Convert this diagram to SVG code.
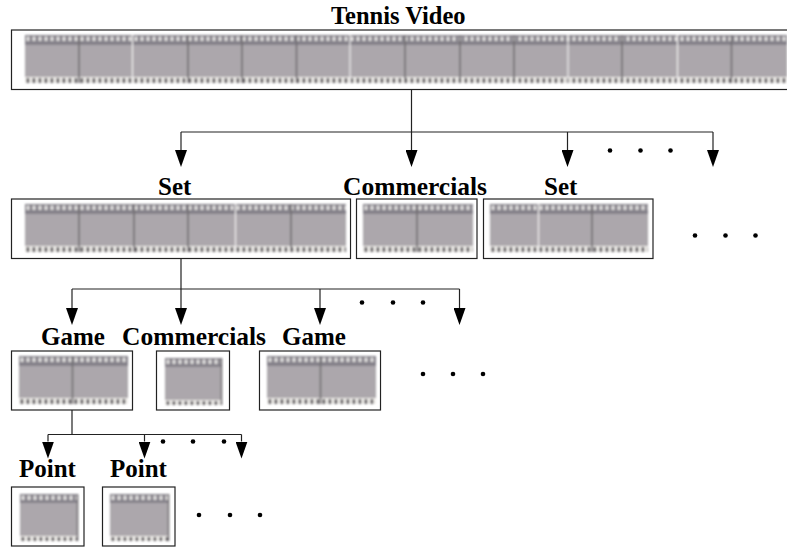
<svg xmlns="http://www.w3.org/2000/svg" width="787" height="547" viewBox="0 0 787 547">
<style>
.box{fill:#fff;stroke:#222;stroke-width:1.2}
.film{fill:#aca7ac}
.tb{fill:url(#holesT)}
.bb{fill:url(#holesB)}
.dk{stroke:#6f6c70;stroke-width:1.6;fill:none}
.wh{stroke:#f2f0f0;stroke-width:1.2;fill:none}
.lbl{font-family:"Liberation Serif","Times New Roman",serif;font-weight:bold;font-size:25px;fill:#000}
.wide{font-size:25.5px}
.ln{fill:none;stroke:#222;stroke-width:1.2}
.dot{fill:#000}
</style>
<defs>
<filter id="soft" x="-3%" y="-8%" width="106%" height="116%"><feGaussianBlur stdDeviation="0.9"/></filter>
<pattern id="holesT" width="6" height="10" patternUnits="userSpaceOnUse"><rect width="6" height="10" fill="#85828a"/><rect x="1.5" y="1.500" width="3" height="4.500" fill="#e2e0df"/></pattern>
<pattern id="holesB" width="6" height="7" patternUnits="userSpaceOnUse"><rect width="6" height="7" fill="#f2f0ec"/><rect x="1.5" y="1" width="2.8" height="6" fill="#5f5c60"/></pattern>
<marker id="ah" markerUnits="userSpaceOnUse" markerWidth="17" markerHeight="12" refX="0" refY="6" orient="auto"><path d="M0 0L17 6L0 12Z" fill="#000"/></marker>
</defs>

<g id="connectors">
<path class="ln" d="M411.5 89V132M181 132H713"/>
<path class="ln" d="M181 132V150" marker-end="url(#ah)"/>
<path class="ln" d="M411.5 132V150" marker-end="url(#ah)"/>
<path class="ln" d="M567.5 132V150" marker-end="url(#ah)"/>
<path class="ln" d="M713 132V150" marker-end="url(#ah)"/>
<path class="ln" d="M181 259V289M72 289H459.5"/>
<path class="ln" d="M72 289V308" marker-end="url(#ah)"/>
<path class="ln" d="M181 289V308" marker-end="url(#ah)"/>
<path class="ln" d="M320 289V308" marker-end="url(#ah)"/>
<path class="ln" d="M459.5 289V308" marker-end="url(#ah)"/>
<path class="ln" d="M72 410V434.5M48 434.5H241.5"/>
<path class="ln" d="M48 434.5V441.500" marker-end="url(#ah)"/>
<path class="ln" d="M144.5 434.5V441.500" marker-end="url(#ah)"/>
<path class="ln" d="M241.5 434.5V441.500" marker-end="url(#ah)"/>
</g>

<g id="video">
<text class="lbl" x="331" y="24" style="font-size:24.5px">Tennis Video</text>
<rect class="box" x="11.5" y="30" width="785" height="59.5"/>
<g transform="translate(25 35)" filter="url(#soft)">
<rect class="film" width="762" height="48"/><rect class="tb" width="762" height="10"/><rect class="bb" y="42" width="762" height="6"/>
<path class="dk" d="M54 0V48M163 0V48M217 0V48M271.5 0V48M380 0V48M435 0V48M489 0V48M597 0V48M706.500 0V48"/>
<path class="wh" d="M107.500 0V48M325 0V48M543 0V48M652.500 0V48"/>
</g>
</g>

<g id="set1">
<text class="lbl" x="158" y="195">Set</text>
<rect class="box" x="11.5" y="199" width="339" height="59.500"/>
<g transform="translate(25 204)" filter="url(#soft)">
<rect class="film" width="321" height="48"/><rect class="tb" width="321" height="10"/><rect class="bb" y="42" width="321" height="6"/>
<path class="dk" d="M54 0V48M109 0V48M163 0V48M266 0V48"/>
<path class="wh" d="M210.500 0V48"/>
</g>
</g>

<g id="commercials1">
<text class="lbl wide" x="343" y="195">Commercials</text>
<rect class="box" x="356.500" y="199" width="120.500" height="59.500"/>
<g transform="translate(363 204)" filter="url(#soft)">
<rect class="film" width="110" height="48"/><rect class="tb" width="110" height="10"/><rect class="bb" y="42" width="110" height="6"/>
<path class="dk" d="M54 0V48"/>
</g>
</g>

<g id="set2">
<text class="lbl" x="544" y="195">Set</text>
<rect class="box" x="483.500" y="199" width="169.500" height="59.500"/>
<g transform="translate(490 204)" filter="url(#soft)">
<rect class="film" width="158" height="48"/><rect class="tb" width="158" height="10"/><rect class="bb" y="42" width="158" height="6"/>
<path class="dk" d="M102 0V48"/>
<path class="wh" d="M48.500 0V48"/>
</g>
</g>

<g id="game1">
<text class="lbl" x="41" y="345">Game</text>
<rect class="box" x="11.500" y="351" width="121" height="59"/>
<g transform="translate(19 356)" filter="url(#soft)">
<rect class="film" width="109" height="48"/><rect class="tb" width="109" height="10"/><rect class="bb" y="42" width="109" height="6"/>
<path class="dk" d="M53.500 0V48"/>
</g>
</g>

<g id="commercials2">
<text class="lbl wide" x="122" y="345">Commercials</text>
<rect class="box" x="156.500" y="351" width="73" height="59"/>
<g transform="translate(165 358)" filter="url(#soft)">
<rect class="film" width="57" height="47"/><rect class="tb" width="57" height="9"/><rect class="bb" y="42" width="57" height="5"/>
<path class="dk" d="M56.500 0V47"/>
</g>
</g>

<g id="game2">
<text class="lbl" x="282" y="345">Game</text>
<rect class="box" x="259.500" y="351" width="121" height="59"/>
<g transform="translate(267 356)" filter="url(#soft)">
<rect class="film" width="109" height="48"/><rect class="tb" width="109" height="10"/><rect class="bb" y="42" width="109" height="6"/>
<path class="dk" d="M53.500 0V48"/>
</g>
</g>

<g id="point1">
<text class="lbl" x="19" y="477">Point</text>
<rect class="box" x="11.500" y="487" width="72.500" height="59"/>
<g transform="translate(20 494)" filter="url(#soft)">
<rect class="film" width="58" height="47"/><rect class="tb" width="58" height="9"/><rect class="bb" y="42" width="58" height="5"/>
<path class="dk" d="M57.500 0V47"/>
</g>
</g>

<g id="point2">
<text class="lbl" x="110" y="477">Point</text>
<rect class="box" x="102.500" y="487" width="72.500" height="59"/>
<g transform="translate(110 494)" filter="url(#soft)">
<rect class="film" width="59" height="47"/><rect class="tb" width="59" height="9"/><rect class="bb" y="42" width="59" height="5"/>
<path class="dk" d="M58.500 0V47"/>
</g>
</g>

<g id="ellipses">
<circle class="dot" cx="610" cy="150.500" r="2.300"/><circle class="dot" cx="640.500" cy="150.500" r="2.300"/><circle class="dot" cx="670.500" cy="150.500" r="2.300"/>
<circle class="dot" cx="695" cy="235.500" r="2.300"/><circle class="dot" cx="725.500" cy="235.500" r="2.300"/><circle class="dot" cx="755.500" cy="235.500" r="2.300"/>
<circle class="dot" cx="362" cy="302.500" r="2.300"/><circle class="dot" cx="393" cy="302.500" r="2.300"/><circle class="dot" cx="423" cy="302.500" r="2.300"/>
<circle class="dot" cx="423" cy="374" r="2.300"/><circle class="dot" cx="453" cy="374" r="2.300"/><circle class="dot" cx="483" cy="374" r="2.300"/>
<circle class="dot" cx="163" cy="441.500" r="2.300"/><circle class="dot" cx="193" cy="441.500" r="2.300"/><circle class="dot" cx="224" cy="441.500" r="2.300"/>
<circle class="dot" cx="199" cy="515" r="2.300"/><circle class="dot" cx="230" cy="515" r="2.300"/><circle class="dot" cx="260" cy="515" r="2.300"/>
</g>
</svg>
